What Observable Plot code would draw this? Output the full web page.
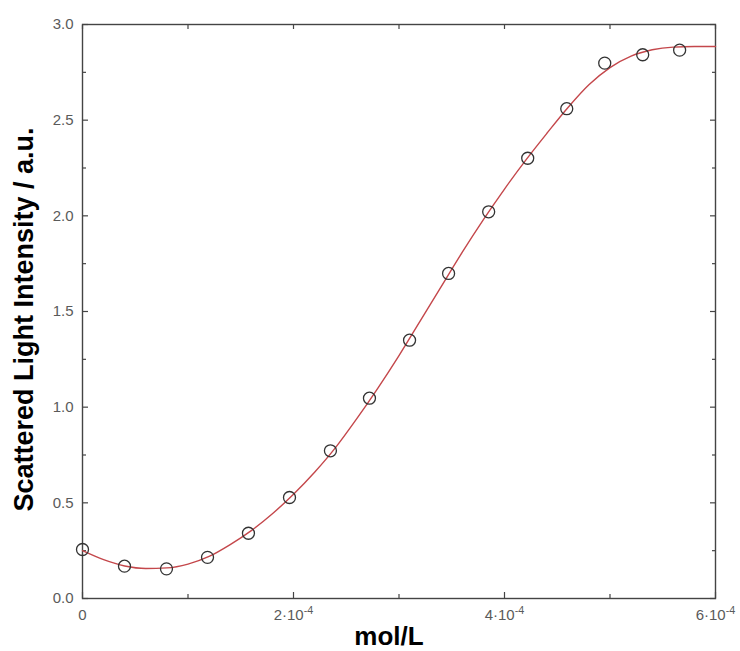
<!DOCTYPE html>
<html>
<head>
<meta charset="utf-8">
<script src="https://cdn.jsdelivr.net/npm/d3@7"></script>
<script src="https://cdn.jsdelivr.net/npm/@observablehq/plot@0.6"></script>
<style>
  html, body { margin: 0; padding: 0; background: #fff; }
  #chart svg { display: block; }
</style>
</head>
<body>
<div id="chart"></div>
<script>
// Measured points (concentration in mol/L, scattered light intensity in a.u.)
const pointConc = [0, 0.398e-4, 0.796e-4, 1.185e-4, 1.573e-4, 1.962e-4, 2.35e-4, 2.72e-4, 3.10e-4, 3.47e-4, 3.85e-4, 4.22e-4, 4.59e-4, 4.95e-4, 5.31e-4, 5.66e-4];
const pointIntensity = [0.256, 0.169, 0.155, 0.215, 0.341, 0.528, 0.772, 1.047, 1.350, 1.699, 2.021, 2.301, 2.560, 2.798, 2.842, 2.866];

// Fitted curve
const fitConc = [0, 0.2e-4, 0.4e-4, 0.6e-4, 0.8e-4, 1.0e-4, 1.2e-4, 1.4e-4, 1.6e-4, 1.8e-4, 2.0e-4, 2.2e-4, 2.4e-4, 2.6e-4, 2.8e-4, 3.0e-4, 3.2e-4, 3.4e-4, 3.6e-4, 3.8e-4, 4.0e-4, 4.2e-4, 4.4e-4, 4.6e-4, 4.8e-4, 5.0e-4, 5.2e-4, 5.4e-4, 5.6e-4, 5.8e-4, 6.0e-4];
const fitIntensity = [0.25, 0.203, 0.170, 0.157, 0.160, 0.180, 0.220, 0.282, 0.355, 0.443, 0.545, 0.66, 0.79, 0.94, 1.10, 1.27, 1.45, 1.63, 1.81, 1.98, 2.14, 2.29, 2.43, 2.565, 2.685, 2.775, 2.835, 2.868, 2.882, 2.885, 2.885];

// Ticks and labels
const xMajorTicks = [0, 2e-4, 4e-4, 6e-4];
const xLabelBase = ["0", "2·10", "4·10", "6·10"];
const xLabelExp = ["", "-4", "-4", "-4"];
const xMinorTicks = [1e-4, 3e-4, 5e-4];
const xAllTicks = [0, 1e-4, 2e-4, 3e-4, 4e-4, 5e-4, 6e-4];
const yMajorTicks = [0, 0.5, 1.0, 1.5, 2.0, 2.5, 3.0];
const yMinorTicks = [0.25, 0.75, 1.25, 1.75, 2.25, 2.75];
const xTitle = "mol/L";
const yTitle = "Scattered Light Intensity / a.u.";

const points = pointConc.map((c, i) => ({c, v: pointIntensity[i]}));
const fit = fitConc.map((c, i) => ({c, v: fitIntensity[i]}));

const axisColor = "#444";
const labelColor = "#5a5a5a";

const chart = Plot.plot({
  width: 740,
  height: 651,
  marginLeft: 82,
  marginRight: 25,
  marginTop: 24,
  marginBottom: 53,
  style: {fontFamily: "'Liberation Sans', Arial, sans-serif", background: "#fff", overflow: "visible"},
  x: {domain: [0, 6e-4]},
  y: {domain: [0, 3]},
  marks: [
    Plot.frame({stroke: axisColor, strokeWidth: 1.4}),
    // bottom axis: major ticks, minor ticks, labels
    Plot.axisX(xMajorTicks, {anchor: "bottom", tickSize: -6, fill: "none", stroke: axisColor, strokeWidth: 1.2, label: null}),
    Plot.axisX(xMinorTicks, {anchor: "bottom", tickSize: -4, fill: "none", stroke: axisColor, strokeWidth: 1.2, label: null}),
    Plot.axisX(xMajorTicks, {anchor: "bottom", tickSize: 0, tickPadding: 11, fontSize: 15, fill: labelColor, label: null,
      tickFormat: d => xLabelBase[xMajorTicks.indexOf(d)]}),
    // top axis ticks
    Plot.axisX(xAllTicks, {anchor: "top", tickSize: -4, fill: "none", stroke: axisColor, strokeWidth: 1.2, label: null}),
    // left axis
    Plot.axisY(yMajorTicks, {anchor: "left", tickSize: -6, fill: "none", stroke: axisColor, strokeWidth: 1.2, label: null}),
    Plot.axisY(yMinorTicks, {anchor: "left", tickSize: -4, fill: "none", stroke: axisColor, strokeWidth: 1.2, label: null}),
    Plot.axisY(yMajorTicks, {anchor: "left", tickSize: 0, tickPadding: 9, fontSize: 15, fill: labelColor, label: null,
      tickFormat: d3.format(".1f")}),
    // right axis ticks
    Plot.axisY(yMajorTicks, {anchor: "right", tickSize: -6, fill: "none", stroke: axisColor, strokeWidth: 1.2, label: null}),
    Plot.axisY(yMinorTicks, {anchor: "right", tickSize: -4, fill: "none", stroke: axisColor, strokeWidth: 1.2, label: null}),
    // fitted curve
    Plot.line(fit, {x: "c", y: "v", stroke: "#c4474b", strokeWidth: 1.4, curve: "monotone-x"}),
    // measured points
    Plot.dot(points, {x: "c", y: "v", r: 6, stroke: "#333", strokeWidth: 1.3, fill: "none"}),
    // titles
    Plot.text([xTitle], {frameAnchor: "bottom", dx: -10, dy: 38, lineAnchor: "middle", textAnchor: "middle", fontSize: 26, fontWeight: "bold", fill: "#000"}),
    Plot.text([yTitle], {frameAnchor: "left", rotate: -90, dx: -58, dy: 8, lineAnchor: "middle", textAnchor: "middle", fontSize: 27, fontWeight: "bold", fill: "#000"})
  ]
});

// Render the exponents of the x tick labels as superscripts
d3.select(chart).selectAll("text").each(function() {
  const t = d3.select(this);
  const i = xLabelBase.indexOf(t.text());
  if (i >= 0 && xLabelExp[i]) {
    t.append("tspan").attr("dy", "-0.55em").attr("font-size", "0.72em").text(xLabelExp[i]);
  }
});

document.getElementById("chart").appendChild(chart);
</script>
</body>
</html>
